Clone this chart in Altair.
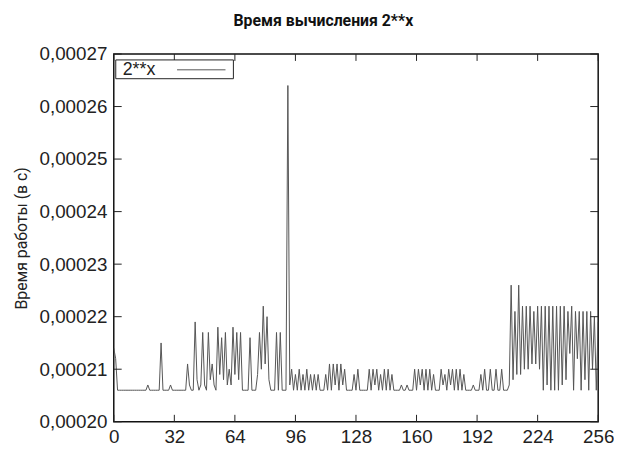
import altair as alt
import pandas as pd

# x values (exponent) and measured time in microseconds
x_vals = list(range(257))
times_us = [
    214, 212, 206, 206, 206, 206, 206, 206, 206, 206,  # 0-9
    206, 206, 206, 206, 206, 206, 206, 206, 207, 206,  # 10-19
    206, 206, 206, 206, 206, 215, 206, 206, 206, 206,  # 20-29
    207, 206, 206, 206, 206, 206, 206, 206, 206, 211,  # 30-39
    207, 206, 206, 219, 208, 206, 207, 217, 207, 206,  # 40-49
    217, 208, 211, 207, 206, 218, 209, 216, 208, 217,  # 50-59
    207, 210, 207, 218, 209, 217, 208, 217, 206, 206,  # 60-69
    206, 206, 216, 206, 206, 206, 209, 217, 210, 222,  # 70-79
    211, 220, 208, 206, 206, 206, 217, 206, 217, 206,  # 80-89
    206, 206, 264, 207, 210, 206, 209, 206, 210, 206,  # 90-99
    209, 206, 210, 206, 209, 206, 209, 206, 209, 206,  # 100-109
    206, 206, 209, 206, 211, 206, 211, 207, 211, 206,  # 110-119
    211, 207, 210, 206, 206, 206, 206, 209, 206, 210,  # 120-129
    206, 206, 206, 206, 206, 210, 206, 210, 207, 210,  # 130-139
    206, 209, 206, 210, 206, 210, 206, 209, 206, 206,  # 140-149
    206, 206, 207, 206, 206, 207, 206, 206, 206, 210,  # 150-159
    206, 210, 207, 210, 206, 210, 206, 210, 206, 209,  # 160-169
    206, 206, 206, 210, 207, 209, 206, 210, 207, 210,  # 170-179
    206, 210, 206, 210, 206, 209, 206, 206, 206, 206,  # 180-189
    207, 206, 206, 206, 209, 206, 210, 206, 206, 210,  # 190-199
    206, 206, 210, 206, 206, 210, 206, 206, 206, 207,  # 200-209
    226, 208, 221, 209, 226, 209, 222, 210, 222, 210,  # 210-219
    222, 211, 221, 211, 222, 210, 222, 206, 222, 207,  # 220-229
    222, 206, 222, 206, 222, 206, 222, 207, 222, 208,  # 230-239
    221, 213, 222, 206, 221, 212, 221, 206, 221, 208,  # 240-249
    221, 206, 221, 210, 220, 206, 219,                 # 250-256
]
x_ticks = [0, 32, 64, 96, 128, 160, 192, 224, 256]
y_ticks = [0.00020, 0.00021, 0.00022, 0.00023, 0.00024, 0.00025, 0.00026, 0.00027]
series_name = ["2**x"]

df = pd.DataFrame({"x": x_vals, "t": [v / 1e6 for v in times_us]})
W, H = 490, 372
LABEL_FONT = "Liberation Sans"
COND_FONT = "Roboto"
TEXT_COLOR = "#222222"
Y_TITLE = "Время работы (в с)"

xs = alt.Scale(domain=[0, 256], nice=False, zero=False)
ys = alt.Scale(domain=[0.00020, 0.00027], nice=False, zero=False)

x_axis = alt.Axis(
    values=x_ticks, title=None, grid=False, ticks=False, domain=False,
    labelFont=LABEL_FONT, labelFontSize=19, labelColor=TEXT_COLOR,
    labelPadding=6, labelFlush=False)
y_axis = alt.Axis(
    values=y_ticks, title=Y_TITLE, grid=False, ticks=False,
    domain=False, labelExpr="replace(format(datum.value, '.5f'), '.', ',')",
    labelFont=LABEL_FONT, labelFontSize=19, labelColor=TEXT_COLOR,
    labelPadding=7, titleFont=COND_FONT,
    titleFontSize=16, titleFontWeight="normal", titleColor=TEXT_COLOR, titlePadding=10)

line = alt.Chart(df).mark_line(color="#555555", strokeWidth=1, clip=True).encode(
    x=alt.X("x:Q", scale=xs, axis=x_axis, title=None),
    y=alt.Y("t:Q", scale=ys, axis=y_axis, title=Y_TITLE),
)

ydf = pd.DataFrame({"t": y_ticks})
xdf = pd.DataFrame({"x": x_ticks})
tick_col = "#222222"
yl = alt.Chart(ydf).mark_rule(color=tick_col, strokeWidth=1).encode(
    y=alt.Y("t:Q", scale=ys, axis=y_axis, title=Y_TITLE),
    x=alt.value(0), x2=alt.value(8))
yr = alt.Chart(ydf).mark_rule(color=tick_col, strokeWidth=1).encode(
    y=alt.Y("t:Q", scale=ys, axis=y_axis, title=Y_TITLE),
    x=alt.value(W - 8), x2=alt.value(W))
xb = alt.Chart(xdf).mark_rule(color=tick_col, strokeWidth=1).encode(
    x=alt.X("x:Q", scale=xs, axis=x_axis, title=None),
    y=alt.value(H), y2=alt.value(H - 7))
xt = alt.Chart(xdf).mark_rule(color=tick_col, strokeWidth=1).encode(
    x=alt.X("x:Q", scale=xs, axis=x_axis, title=None),
    y=alt.value(0), y2=alt.value(7))

leg_df = pd.DataFrame({"label": series_name})
leg_box = alt.Chart(leg_df).mark_rect(fill="white", stroke=tick_col, strokeWidth=1).encode(
    x=alt.value(2), x2=alt.value(121), y=alt.value(6), y2=alt.value(25))
leg_text = alt.Chart(leg_df).mark_text(
    align="left", baseline="middle", font=LABEL_FONT, fontSize=18, color=TEXT_COLOR
).encode(x=alt.value(9), y=alt.value(16), text="label:N")
leg_line = alt.Chart(leg_df).mark_rule(color="#555555", strokeWidth=1).encode(
    x=alt.value(64), x2=alt.value(113), y=alt.value(16))

chart = alt.layer(line, yl, yr, xb, xt, leg_box, leg_text, leg_line).properties(
    width=W, height=H,
    background="white",
    title=alt.Title("Время вычисления 2**x",
                    font=COND_FONT,
                    fontSize=16, fontWeight="bold", color="#111111",
                    anchor="middle", dx=-33, offset=16),
    autosize=alt.AutoSizeParams(type="none"),
    padding={"left": 107, "top": 44, "right": 16, "bottom": 22},
).configure_view(stroke="#111111", strokeWidth=1.5)

chart.save("out.html", embed_options={"renderer": "svg", "actions": False})
